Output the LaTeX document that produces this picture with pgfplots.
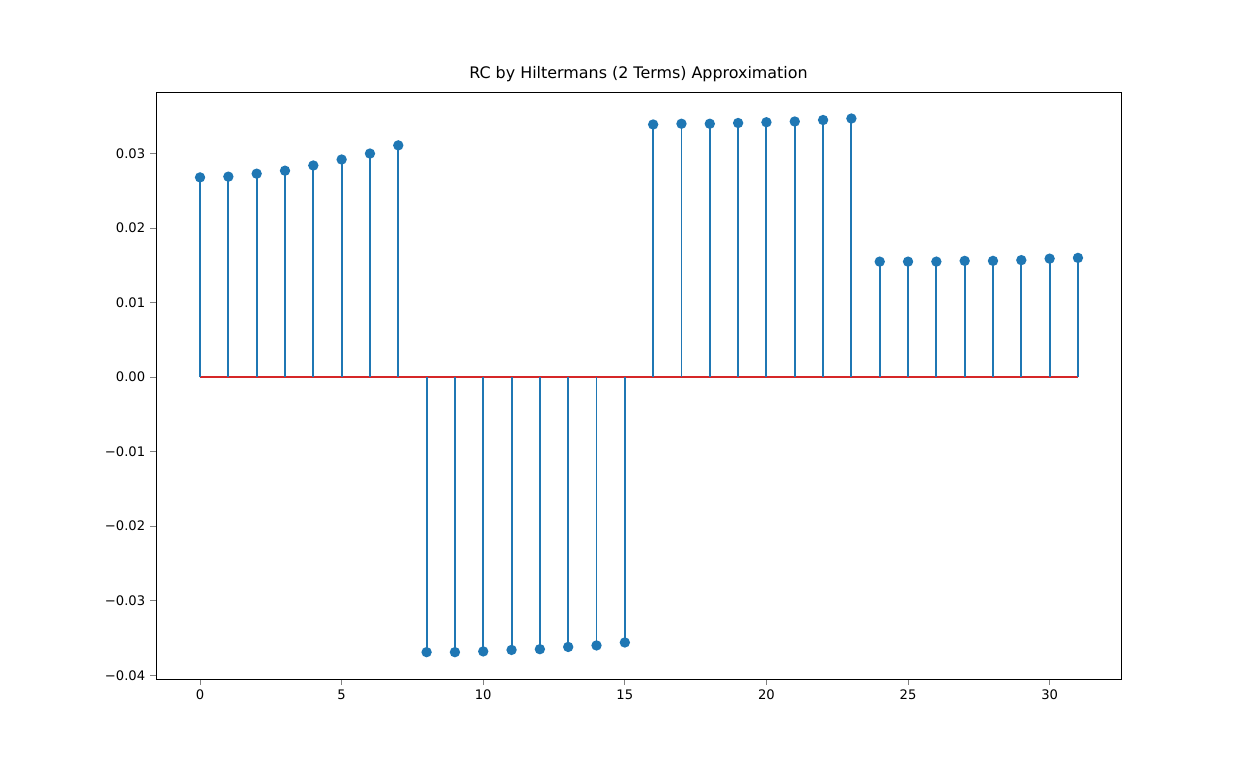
\documentclass[border=0pt]{standalone}
\usepackage{pgfplots}
\pgfplotsset{compat=1.18}
\usepackage{fontspec}
\setmainfont{DejaVu Sans}
\definecolor{cb}{HTML}{1F77B4}
\definecolor{cr}{HTML}{D62728}
\begin{document}
\fontsize{10}{12}\selectfont
\begin{tikzpicture}
\begin{axis}[scale only axis, width=9.65in, height=5.87in,
 xmin=-1.555, xmax=32.52, ymin=-0.0405, ymax=0.03826,
 xtick={0,5,...,30}, ytick={-0.04,-0.03,-0.02,-0.01,0,0.01,0.02,0.03},
 yticklabels={−0.04,−0.03,−0.02,−0.01,0.00,0.01,0.02,0.03},
 scaled y ticks=false, tick align=outside, tick pos=left,
 /pgf/number format/assume math mode=true,
 tick label style={font=\fontsize{9.5}{12}\selectfont},
 title={RC by Hiltermans (2 Terms) Approximation},
 title style={font=\fontsize{11.5}{14}\selectfont, yshift=-2pt},
 axis line style={black, line width=0.6pt}, major tick style={line width=0.6pt}]
\addplot[cr, line width=1.4pt] coordinates {(0,0) (31,0)};
\addplot[ycomb, cb, line width=1.4pt, mark=*, mark size=3pt, mark options={fill=cb, draw=cb}] coordinates {
(0,0.0268)(1,0.0269)(2,0.0273)(3,0.0277)(4,0.0284)(5,0.0292)(6,0.0300)(7,0.0311)
(8,-0.0369)(9,-0.0369)(10,-0.0368)(11,-0.0366)(12,-0.0365)(13,-0.0362)(14,-0.0360)(15,-0.0356)
(16,0.0339)(17,0.0340)(18,0.0340)(19,0.0341)(20,0.0342)(21,0.0343)(22,0.0345)(23,0.0347)
(24,0.0155)(25,0.0155)(26,0.0155)(27,0.0156)(28,0.0156)(29,0.0157)(30,0.0159)(31,0.0160)};
\end{axis}
\path[use as bounding box] ([shift={(-1.56in,-0.84in)}]current axis.south west) rectangle ([shift={(1.25in,0.92in)}]current axis.north east);
\end{tikzpicture}
\end{document}
